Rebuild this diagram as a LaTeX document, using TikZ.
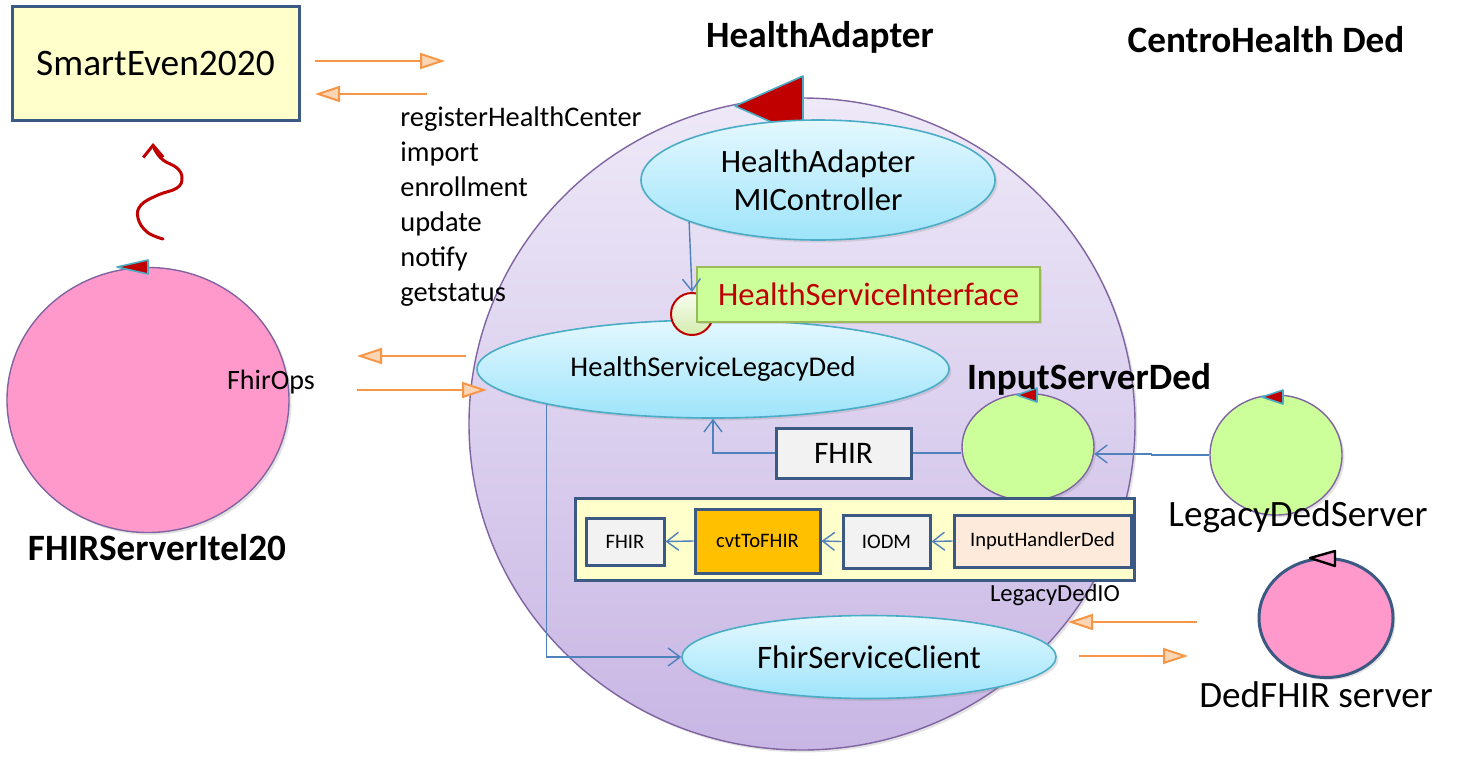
\documentclass[tikz,border=0pt]{standalone}
\usepackage{fontspec}
\setmainfont{Carlito}
\usetikzlibrary{positioning,arrows.meta,calc,shapes.geometric,shadows}
\definecolor{ink}{RGB}{0,0,0}
\definecolor{frameblue}{RGB}{59,89,130}
\definecolor{linkblue}{RGB}{79,129,189}
\definecolor{orangeline}{RGB}{247,150,70}
\definecolor{orangetip}{RGB}{252,213,181}
\definecolor{purpleframe}{RGB}{128,100,162}
\definecolor{lavtop}{RGB}{238,233,248}
\definecolor{lavbot}{RGB}{200,182,228}
\definecolor{cyantop}{RGB}{228,248,255}
\definecolor{cyanbot}{RGB}{158,228,250}
\definecolor{cyanframe}{RGB}{75,172,198}
\definecolor{paleyellow}{RGB}{255,255,204}
\definecolor{limefill}{RGB}{204,255,153}
\definecolor{limeframe}{RGB}{155,187,89}
\definecolor{pinkfill}{RGB}{255,153,204}
\definecolor{darkred}{RGB}{192,0,0}
\definecolor{boxgray}{RGB}{242,242,242}
\definecolor{boxamber}{RGB}{255,192,0}
\definecolor{boxpeach}{RGB}{253,234,218}
\definecolor{dottop}{RGB}{248,253,240}
\definecolor{dotbot}{RGB}{212,236,175}
\tikzset{
  softshadow/.style={drop shadow={opacity=0.22, shadow xshift=1.2pt, shadow yshift=-1.2pt}},
  sysbox/.style={draw=frameblue, fill=paleyellow, line width=1.5pt, inner sep=0pt,
    font=\fontsize{18.7}{22}\selectfont, text=ink, softshadow},
  cbox/.style={draw=frameblue, fill=boxgray, line width=1.5pt, inner sep=0pt,
    font=\fontsize{10.3}{12}\selectfont, text=ink},
  svc/.style={ellipse, draw=cyanframe, line width=0.8pt, top color=cyantop,
    bottom color=cyanbot, inner sep=0pt, align=center, text=ink, softshadow},
  srv/.style={ellipse, draw=purpleframe, line width=0.7pt, inner sep=0pt, softshadow},
  lbl/.style={inner sep=0pt, text=ink, font=\fontsize{18.6}{22}\selectfont},
  lblb/.style={inner sep=0pt, text=ink, font=\fontsize{18.6}{22}\selectfont\bfseries},
  wire/.style={line width=0.7pt, draw=linkblue},
  link/.style={wire, -{Straight Barb[length=6pt,width=9pt]}},
  msg/.style={-{Triangle[length=12.5pt,width=8pt,fill=orangetip]}, line width=1pt,
    draw=orangeline},
  squig/.style={-{Straight Barb[length=6pt,width=10pt]}, line width=1.5pt, draw=darkred,
    line cap=round, line join=round},
  flag/.style={fill=darkred, draw=cyanframe, line width=0.8pt, line join=round},
}

\begin{document}
\begin{tikzpicture}[x=0.5pt,y=-0.5pt]
  \useasboundingbox[fill=white] (0,0) rectangle (1457,761);

  % adapter body
  \node[srv, minimum width=333pt, minimum height=326pt, top color=lavtop,
    bottom color=lavbot] (body) at (802,424) {};
  \draw[flag] (735,106) -- (803,76) -- (803,136) -- cycle;
  \node[svc, minimum width=177pt, minimum height=60pt,
    font=\fontsize{16.3}{19}\selectfont] (ctrl) at (818,180) {HealthAdapter\\MIController};
  \node[svc, minimum width=236pt, minimum height=49pt,
    font=\fontsize{14.3}{17}\selectfont] (hsld) at (713,369) {HealthServiceLegacyDed};
  \node[circle, draw=darkred, line width=1pt, minimum size=21pt, inner sep=0pt,
    top color=dottop, bottom color=dotbot] (dot) at (692,314) {};
  \node[draw=limeframe, fill=limefill, line width=1pt, inner sep=0pt, text=darkred,
    minimum width=171.5pt, minimum height=27.5pt, font=\fontsize{16.3}{19}\selectfont,
    softshadow] (hsi) at (868.5,294.5) {HealthServiceInterface};
  \node[cbox, minimum width=67.5pt, minimum height=25pt,
    font=\fontsize{15.7}{18}\selectfont] (fhirA) at (843.5,453) {FHIR};
  \node[srv, fill=limefill, minimum width=66pt, minimum height=53.5pt] (isd) at (1028,447) {};
  \draw[flag] (1017,395) -- (1037,388) -- (1037,402) -- cycle;

  % legacy IO chain
  \node[draw=frameblue, fill=paleyellow, line width=1.5pt, inner sep=0pt,
    minimum width=279.5pt, minimum height=41pt] (lio) at (854.5,539) {};
  \node[cbox, minimum width=39pt, minimum height=23.5pt] (fhirB) at (625,541.5) {FHIR};
  \node[cbox, fill=boxamber, minimum width=62.5pt, minimum height=32pt] (cvt) at (757.5,541) {cvtToFHIR};
  \node[cbox, minimum width=43.5pt, minimum height=26.5pt] (iodm) at (886.5,541.5) {IODM};
  \node[cbox, fill=boxpeach, minimum width=88.5pt, minimum height=26pt] (ihd) at (1042.5,541) {InputHandlerDed};
  \node[inner sep=0pt, font=\fontsize{12.3}{14}\selectfont] (lioLbl) at (1055,595) {LegacyDedIO};
  \node[svc, minimum width=187pt, minimum height=41.5pt,
    font=\fontsize{16.4}{19}\selectfont] (fsc) at (869,657) {FhirServiceClient};

  % outside parties
  \node[sysbox, minimum width=143.5pt, minimum height=57pt] (smart) at (155.5,63) {SmartEven2020};
  \node[srv, fill=pinkfill, minimum width=141pt, minimum height=132.5pt] (fsi) at (148,400) {};
  \draw[flag] (117,267) -- (148,260) -- (148,274) -- cycle;
  \node[srv, fill=limefill, minimum width=66pt, minimum height=60pt] (lds) at (1276,455) {};
  \draw[flag] (1262,397) -- (1283,390) -- (1283,404) -- cycle;
  \node[srv, draw=frameblue, line width=1.5pt, fill=pinkfill, minimum width=67pt,
    minimum height=59.5pt] (dfs) at (1326,618) {};
  \draw[fill=pinkfill, draw=black, line width=1.2pt, line join=round]
    (1310,558) -- (1335,551) -- (1335,566) -- cycle;

  % titles and labels
  \node[lblb] (haTitle) at (820,37) {HealthAdapter};
  \node[lblb] (chTitle) at (1266,40) {CentroHealth Ded};
  \node[lblb] (isdLbl) at (1089,379) {InputServerDed};
  \node[lblb] (fsiLbl) at (157,548) {FHIRServerItel20};
  \node[lbl] (ldsLbl) at (1298,517) {LegacyDedServer};
  \node[lbl] (dfsLbl) at (1316,695) {DedFHIR server};
  \node[inner sep=0pt, font=\fontsize{14}{17}\selectfont] (opsLbl) at (271,382) {FhirOps};
  \node[inner sep=0pt, anchor=north west, align=left,
    font=\fontsize{14.2}{17.5}\selectfont] (ops) at (400,106)
    {registerHealthCenter\\import\\enrollment\\update\\notify\\getstatus};

  % message arrows
  \coordinate (se1) at (315,61);   \coordinate (se2) at (445,61);
  \coordinate (se3) at (427,94);   \coordinate (se4) at (315,94);
  \coordinate (fo1) at (466,356);  \coordinate (fo2) at (357,356);
  \coordinate (fo3) at (357,390);  \coordinate (fo4) at (487,390);
  \coordinate (df1) at (1197,622); \coordinate (df2) at (1068,622);
  \coordinate (df3) at (1079,656); \coordinate (df4) at (1188,656);
  \draw[msg] (se1) -- (se2);
  \draw[msg] (se3) -- (se4);
  \draw[msg] (fo1) -- (fo2);
  \draw[msg] (fo3) -- (fo4);
  \draw[msg] (df1) -- (df2);
  \draw[msg] (df3) -- (df4);

  % event squiggle
  \coordinate (wigA) at (163,239);
  \coordinate (wigB) at (153,143);
  \draw[squig] plot[smooth, tension=0.7] coordinates {(wigA) (147,232) (138,218)
    (141,205) (158,195) (177,188) (182,178) (177,168) (163,160) (155,150) (wigB)};

  % internal wiring
  \draw[link] (ctrl.198) -- (dot.north);
  \draw[wire] (fhirA.east -| isd.west) -- (fhirA.east);
  \draw[link] (fhirA.west) -| (hsld.south);
  \draw[link] (lds.west) -- ++(-58,0) |- (isd.-6);
  \draw[link] (ihd.west) -- (iodm.east);
  \draw[link] (iodm.west) -- (cvt.east);
  \draw[link] (cvt.west) -- (fhirB.east);
  \draw[link] (hsld.192) |- (fsc.west);
\end{tikzpicture}
\end{document}
